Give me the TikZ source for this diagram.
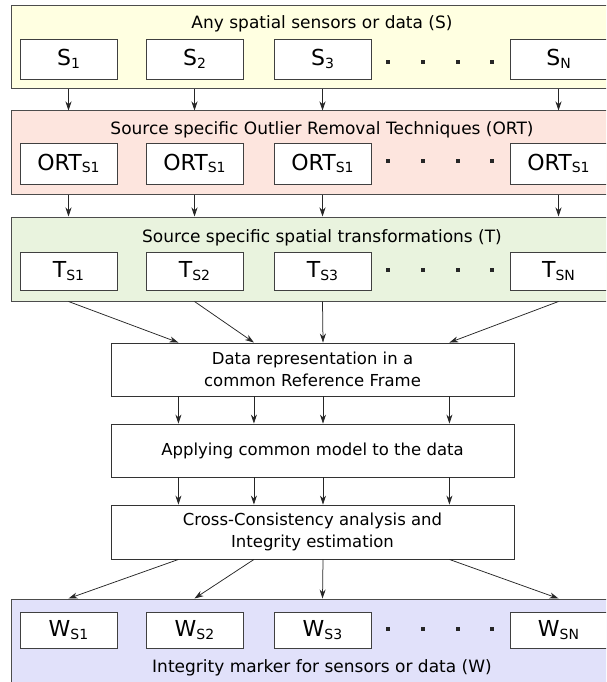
\documentclass[tikz,border=0pt]{standalone}
\usepackage{fontspec}
\setmainfont{DejaVu Sans}
\usetikzlibrary{arrows.meta,calc}
\definecolor{yband}{RGB}{255,255,225}
\definecolor{pband}{RGB}{253,229,222}
\definecolor{gband}{RGB}{233,243,222}
\definecolor{bband}{RGB}{225,225,250}
\newcommand\lsub[1]{\raisebox{-2.5pt}{\fontsize{14}{14}\selectfont #1}}
\begin{document}
\begin{tikzpicture}[x=1pt,y=-1pt,
  band/.style={draw=black!70, line width=1pt, minimum width=622pt, inner sep=0pt},
  cell/.style={draw=black!75, line width=0.9pt, fill=white, minimum width=97pt, inner sep=0pt, font=\fontsize{22}{26}\selectfont},
  bandtitle/.style={font=\fontsize{17}{20}\selectfont, inner sep=0pt, anchor=base},
  proc/.style={draw=black!80, line width=0.9pt, fill=white, minimum width=403pt, inner sep=0pt, align=center, font=\fontsize{16.5}{22}\selectfont},
  arr/.style={-{Stealth[length=9pt,width=6pt]}, line width=0.75pt, draw=black!85},
  sqdot/.style={fill=black!85, minimum size=3.3pt, inner sep=0pt}
]
\useasboundingbox (0,0) rectangle (606,682);
\clip (0,0) rectangle (606,682);

% bands
\node[band, fill=yband, minimum height=83pt] (bandS) at (322,47.5) {};
\node[band, fill=pband, minimum height=83pt] (bandO) at (322,152.5) {};
\node[band, fill=gband, minimum height=84pt] (bandT) at (322,259) {};
\node[band, fill=bband, minimum height=90pt] (bandW) at (322,644) {};

% band titles
\node[bandtitle] (tS) at (322,29) {Any spatial sensors or data (S)};
\node[bandtitle] (tO) at (322,135) {Source specific Outlier Removal Techniques (ORT)};
\node[bandtitle] (tT) at (322,242) {Source specific spatial transformations (T)};
\node[bandtitle] (tW) at (322,672) {Integrity marker for sensors or data (W)};

% S row
\node[cell, minimum height=40pt] (S1) at (68.5,59) {S\lsub{1}};
\node[cell, minimum height=40pt] (S2) at (194.5,59) {S\lsub{2}};
\node[cell, minimum height=40pt] (S3) at (322.5,59) {S\lsub{3}};
\node[cell, minimum height=40pt] (SN) at (558.5,59) {S\lsub{N}};
% ORT row
\node[cell, minimum height=41pt] (O1) at (68.5,163.5) {ORT\lsub{S1}};
\node[cell, minimum height=41pt] (O2) at (194.5,163.5) {ORT\lsub{S1}};
\node[cell, minimum height=41pt] (O3) at (322.5,163.5) {ORT\lsub{S1}};
\node[cell, minimum height=41pt] (ON) at (558.5,163.5) {ORT\lsub{S1}};
% T row
\node[cell, minimum height=38pt] (T1) at (68.5,271) {T\lsub{S1}};
\node[cell, minimum height=38pt] (T2) at (194.5,271) {T\lsub{S2}};
\node[cell, minimum height=38pt] (T3) at (322.5,271) {T\lsub{S3}};
\node[cell, minimum height=38pt] (TN) at (558.5,271) {T\lsub{SN}};
% W row
\node[cell, minimum height=36pt] (W1) at (68.5,630) {W\lsub{S1}};
\node[cell, minimum height=36pt] (W2) at (194.5,630) {W\lsub{S2}};
\node[cell, minimum height=36pt] (W3) at (322.5,630) {W\lsub{S3}};
\node[cell, minimum height=36pt] (WN) at (558.5,630) {W\lsub{SN}};

% dots
\foreach \r/\yy in {S/62,O/161,T/270,W/629}{
  \foreach \xx [count=\k] in {388,423,458,492}{
    \node[sqdot] (dot\r\k) at (\xx,\yy) {};
  }
}

% process boxes
\node[proc, minimum height=53pt] (data) at (312.5,369.5) {Data representation in a\\common Reference Frame};
\node[proc, minimum height=53pt] (apply) at (312.5,450.5) {Applying common model to the data};
\node[proc, minimum height=54pt] (cross) at (312.5,532) {Cross-Consistency analysis and\\Integrity estimation};

% connection points on the process boxes
\foreach \f [count=\i] in {0.168,0.355,0.526,0.839}{
  \coordinate (dn\i) at ($(data.north west)!\f!(data.north east)$);
  \coordinate (ds\i) at ($(data.south west)!\f!(data.south east)$);
  \coordinate (an\i) at ($(apply.north west)!\f!(apply.north east)$);
  \coordinate (as\i) at ($(apply.south west)!\f!(apply.south east)$);
  \coordinate (cn\i) at ($(cross.north west)!\f!(cross.north east)$);
  \coordinate (cs\i) at ($(cross.south west)!\f!(cross.south east)$);
}

% arrows between bands
\foreach \a in {S1,S2,S3,SN}{
  \draw[arr] (bandS.south -| \a) -- (bandO.north -| \a);
}
\foreach \a in {O1,O2,O3,ON}{
  \draw[arr] (bandO.south -| \a) -- (bandT.north -| \a);
}
% T band to data box
\draw[arr] (bandT.south -| T1) -- (dn1);
\draw[arr] (bandT.south -| T2) -- (dn2);
\draw[arr] (bandT.south -| T3) -- (dn3);
\draw[arr] (bandT.south -| TN) -- (dn4);
% data -> apply -> cross
\foreach \i in {1,2,3,4}{
  \draw[arr] (ds\i) -- (an\i);
  \draw[arr] (as\i) -- (cn\i);
}
% cross to W band
\draw[arr] (cs1) -- (bandW.north -| W1);
\draw[arr] (cs2) -- (bandW.north -| W2);
\draw[arr] (cs3) -- (bandW.north -| W3);
\draw[arr] (cs4) -- (bandW.north -| WN);
\end{tikzpicture}
\end{document}
